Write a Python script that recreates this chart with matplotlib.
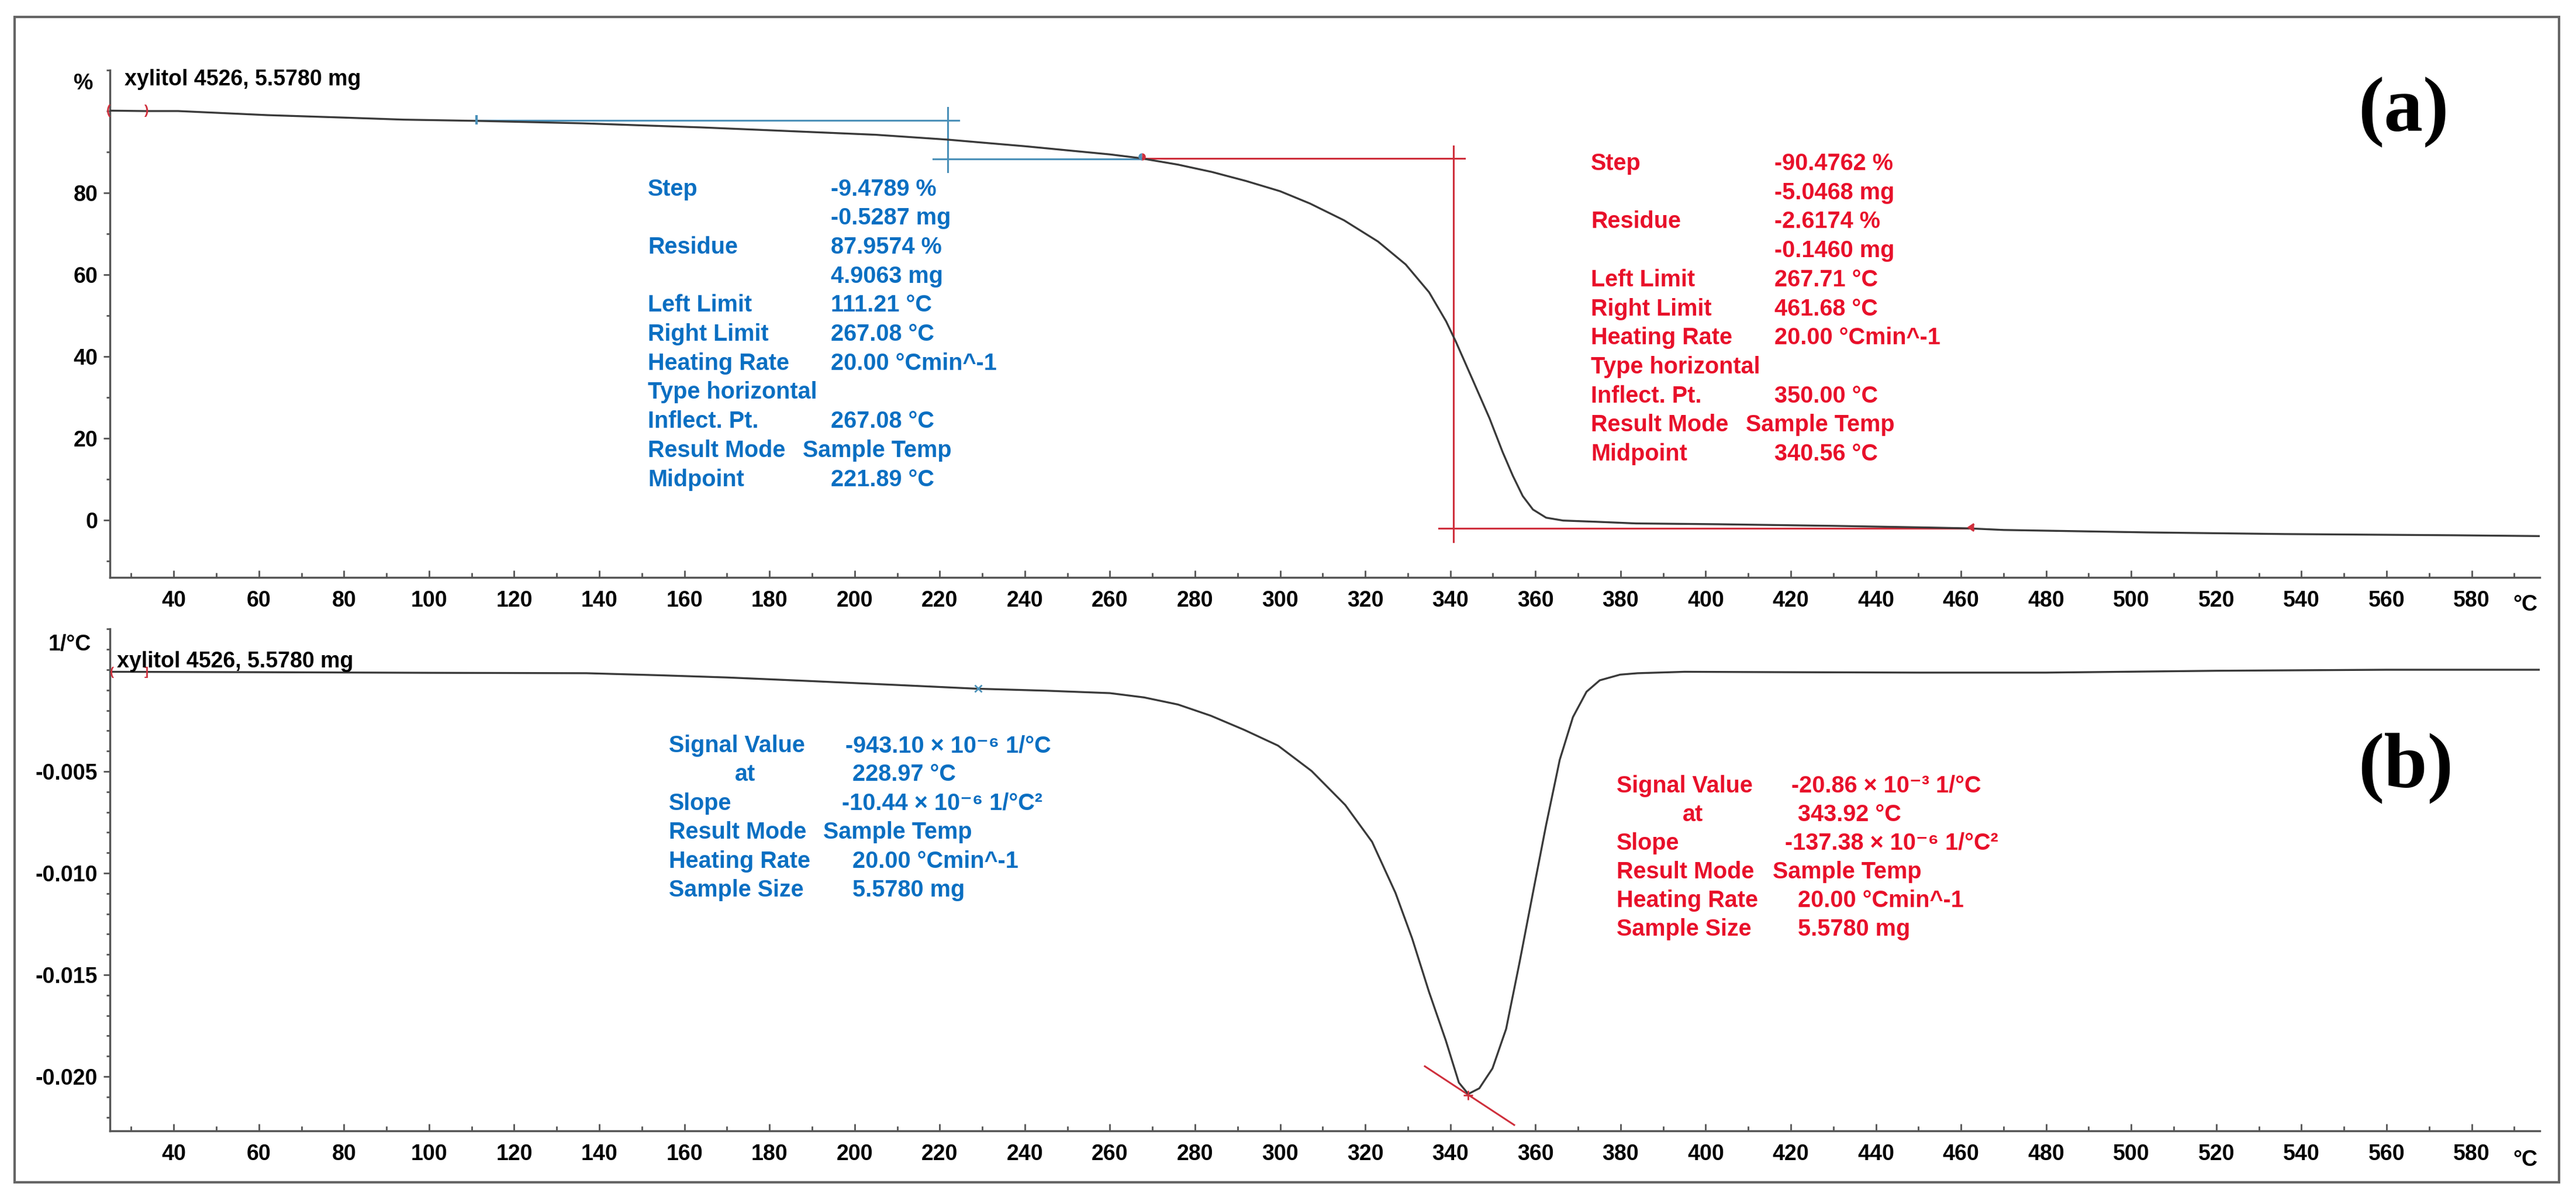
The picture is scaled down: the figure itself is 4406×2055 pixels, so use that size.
import numpy as np
import matplotlib
matplotlib.use("Agg")
import matplotlib.pyplot as plt
from matplotlib.patches import Rectangle

# canvas size in pixels (dpi 100)
W, H = 4406, 2055

# ---- data ----
# (a) TGA: temperature (degC) vs mass (%)
tga_temp = [25, 33, 41, 62, 80, 94, 111, 136, 164, 180,
            205, 222, 240, 250, 260, 267, 276, 284, 292, 300,
            307, 315, 323, 329.5, 335, 339, 341.3, 345.2, 349.2, 352.3,
            354.7, 357, 359.4, 362.5, 366.5, 374.3, 383.6, 403, 430, 452,
            461.5, 470, 504, 536, 576, 596]
tga_mass = [100.1, 100.0, 100.0, 99.0, 98.4, 97.9, 97.6, 97.0, 96.0, 95.3,
            94.2, 93.0, 91.4, 90.4, 89.4, 88.5, 86.9, 85.1, 82.9, 80.4,
            77.4, 73.3, 68.1, 62.5, 55.7, 48.6, 43.6, 34.4, 24.9, 16.6,
            10.8, 5.9, 2.6, 0.6, -0.1, -0.4, -0.8, -1.0, -1.4, -1.8,
            -2.0, -2.4, -3.0, -3.4, -3.7, -3.9]

# (b) DTG: temperature (degC) vs derivative (1/degC)
dtg_temp = [25, 60, 100, 137, 154, 170, 189, 210, 228.5, 245,
            260, 268, 276, 283.7, 291.6, 299.5, 307.4, 315.3, 321.6, 327.1,
            331, 335, 338.9, 342, 344.2, 346.8, 349.9, 353.1, 356.2, 359.4,
            362.5, 365.7, 368.8, 372, 375.1, 379.9, 384, 395, 420, 450,
            480, 520, 560, 596]
dtg_value = [-0.00010, -0.00012, -0.00015, -0.00017, -0.00027, -0.00038, -0.00055,
             -0.00075, -0.00093, -0.00103,
             -0.00115, -0.00136, -0.00171, -0.00226, -0.00296, -0.00373, -0.00498,
             -0.00665, -0.00846, -0.01097,
             -0.01320, -0.01585, -0.01821, -0.02030, -0.02086, -0.02058, -0.01960,
             -0.01766, -0.01445, -0.01097,
             -0.00763, -0.00443, -0.00233, -0.00108, -0.00052, -0.00024, -0.00017,
             -0.00010, -0.00012, -0.00014,
             -0.00014, -0.00005, 0.0, 0.0]

# evaluation lines, step 1 (blue) and step 2 (red)
blue_upper = {"temp": [111, 224.5], "mass": 97.7}
blue_lower = {"temp": [218.4, 267], "mass": 88.3}
blue_mid = {"temp": 221.89, "mass": [85.1, 100.8]}
red_upper = {"temp": [267, 343.4], "mass": 88.4}
red_lower = {"temp": [337.3, 461.7], "mass": -2.0}
red_mid = {"temp": 340.7, "mass": [-5.3, 91.4]}

# peak tangent on DTG
peak_temp = 343.92
peak_value = -0.02086
peak_slope = -137.38e-6
tangent_temp = [334, 355]
blue_point = (228.97, -0.00093)

# axis ticks
x_major = list(range(40, 581, 20))
x_minor = list(range(30, 591, 20))
tga_yticks = [0, 20, 40, 60, 80]
tga_yminor = [-10, 10, 30, 50, 70, 90, 100, 110]
dtg_yticks = [-0.020, -0.015, -0.010, -0.005]
dtg_ylabels = ["-0.020", "-0.015", "-0.010", "-0.005"]
dtg_yminor = [round(-0.022 + 0.001 * i, 3) for i in range(25)]

sample_label = "xylitol 4526, 5.5780 mg"

# result tables
a_blue_labels = ["Step", "", "Residue", "", "Left Limit", "Right Limit", "Heating Rate",
                 "Type horizontal", "Inflect. Pt.", "Result Mode", "Midpoint"]
a_blue_values = ["-9.4789 %", "-0.5287 mg", "87.9574 %", "4.9063 mg", "111.21 °C",
                 "267.08 °C", "20.00 °Cmin^-1", "", "267.08 °C", "Sample Temp",
                 "221.89 °C"]
a_red_labels = a_blue_labels
a_red_values = ["-90.4762 %", "-5.0468 mg", "-2.6174 %", "-0.1460 mg", "267.71 °C",
                "461.68 °C", "20.00 °Cmin^-1", "", "350.00 °C", "Sample Temp",
                "340.56 °C"]
b_blue_labels = ["Signal Value", "at", "Slope", "Result Mode", "Heating Rate", "Sample Size"]
b_blue_values = ["-943.10 × 10⁻⁶ 1/°C", "228.97 °C", "-10.44 × 10⁻⁶ 1/°C²",
                 "Sample Temp", "20.00 °Cmin^-1", "5.5780 mg"]
b_red_labels = b_blue_labels
b_red_values = ["-20.86 × 10⁻³ 1/°C", "343.92 °C", "-137.38 × 10⁻⁶ 1/°C²",
                "Sample Temp", "20.00 °Cmin^-1", "5.5780 mg"]

# ---- style ----
BLUE_TXT = "#0a6fc2"
RED_TXT = "#e8102a"
BLUE_LN = "#4a90b8"
RED_LN = "#cf2f3c"
CURVE = "#3a3a3a"
AXC = "#555555"
FONT = ["Liberation Sans", "DejaVu Sans"]

plt.rcParams["font.family"] = FONT
plt.rcParams["font.weight"] = "bold"


def fxy(x, y):
    # pixel position -> figure fraction
    return x / W, 1 - y / H


def style_axes(ax):
    for side in ["top", "right"]:
        ax.spines[side].set_visible(False)
    for side in ["left", "bottom"]:
        ax.spines[side].set_color(AXC)
        ax.spines[side].set_linewidth(2.5)
    ax.set_xlim(25, 596)
    ax.set_xticks(x_major)
    ax.set_xticks(x_minor, minor=True)
    ax.set_xticklabels([str(t) for t in x_major])
    ax.tick_params(axis="x", which="major", direction="in", length=9, width=2,
                   color=AXC, pad=16, labelsize=27)
    ax.tick_params(axis="x", which="minor", direction="in", length=6, width=2, color=AXC)
    ax.tick_params(axis="y", which="major", direction="out", length=8, width=2,
                   color=AXC, pad=7, labelsize=27)
    ax.tick_params(axis="y", which="minor", direction="out", length=4, width=2, color=AXC)


def draw_block(labels, values, x_lab, x_vals, y0, dy, color, size=28.5):
    for i, (lab, val) in enumerate(zip(labels, values)):
        y = y0 + i * dy
        xl = x_lab + 113 if lab == "at" else x_lab
        if lab:
            fig.text(*fxy(xl, y), lab, color=color, fontsize=size, weight="bold",
                     va="center", ha="left", family=FONT)
        if val:
            fig.text(*fxy(x_vals[i], y), val, color=color, fontsize=size, weight="bold",
                     va="center", ha="left", family=FONT)


fig = plt.figure(figsize=(W / 100, H / 100), dpi=100)
fig.patch.set_facecolor("white")

left, width = 188 / W, (4344 - 188) / W
ax1 = fig.add_axes([left, 1 - 988 / H, width, (988 - 120) / H])
ax2 = fig.add_axes([left, 1 - 1935 / H, width, (1935 - 1076) / H])

# ---- (a) TGA ----
style_axes(ax1)
ax1.set_ylim(-14, 110)
ax1.set_yticks(tga_yticks)
ax1.set_yticks(tga_yminor, minor=True)
ax1.set_yticklabels([str(t) for t in tga_yticks])

ax1.plot(blue_upper["temp"], [blue_upper["mass"]] * 2, color=BLUE_LN, lw=2.2)
ax1.plot(blue_lower["temp"], [blue_lower["mass"]] * 2, color=BLUE_LN, lw=2.2)
ax1.plot([blue_mid["temp"]] * 2, blue_mid["mass"], color=BLUE_LN, lw=2.2)
ax1.plot(red_upper["temp"], [red_upper["mass"]] * 2, color=RED_LN, lw=2.2)
ax1.plot(red_lower["temp"], [red_lower["mass"]] * 2, color=RED_LN, lw=2.2)
ax1.plot([red_mid["temp"]] * 2, red_mid["mass"], color=RED_LN, lw=2.2)

ax1.plot(tga_temp, tga_mass, color=CURVE, lw=2.4, zorder=4, solid_joinstyle="round")

# small evaluation markers
ax1.text(24.6, 100.1, "(", color=RED_LN, fontsize=16, ha="center", va="center", zorder=5)
ax1.text(33.5, 100.0, ")", color=RED_LN, fontsize=16, ha="center", va="center", zorder=5)
ax1.plot([111.2], [97.9], marker="|", color=BLUE_LN, ms=12, mew=3, zorder=5)
ax1.plot([267.5], [88.9], marker="o", ms=9, fillstyle="left", color=BLUE_LN,
         markerfacecoloralt=RED_LN, mec="none", zorder=5)
ax1.plot([461.7], [-1.7], marker=4, color=RED_LN, ms=9, mew=2.5, zorder=5)

# ---- (b) DTG ----
style_axes(ax2)
ax2.set_ylim(-0.022672, 0.002011)
ax2.set_yticks(dtg_yticks)
ax2.set_yticks(dtg_yminor, minor=True)
ax2.set_yticklabels(dtg_ylabels)

ax2.plot(dtg_temp, dtg_value, color=CURVE, lw=2.4, zorder=4, solid_joinstyle="round")
tan_v = [peak_value + peak_slope * (t - peak_temp) for t in tangent_temp]
ax2.plot(tangent_temp, tan_v, color=RED_LN, lw=2.2, zorder=3)
ax2.plot([peak_temp + 0.3], [peak_value - 0.00005], marker="+", color=RED_LN, ms=12,
         mew=2, zorder=5)
ax2.plot([blue_point[0]], [blue_point[1]], marker="x", color=BLUE_LN, ms=9, mew=2, zorder=5)
ax2.text(25.5, -0.00012, "(", color=RED_LN, fontsize=15, ha="center", va="center", zorder=5)
ax2.text(33.5, -0.00012, "]", color=RED_LN, fontsize=15, ha="center", va="center", zorder=5)

# ---- labels and tables ----
fig.text(*fxy(142, 143), "%", fontsize=27, weight="bold", ha="center", va="center")
fig.text(*fxy(119, 1103), "1/°C", fontsize=27, weight="bold", ha="center", va="center")
fig.text(*fxy(4319, 1035), "°C", fontsize=27, weight="bold", ha="center", va="center")
fig.text(*fxy(4319, 1985), "°C", fontsize=27, weight="bold", ha="center", va="center")
fig.text(*fxy(213, 136), sample_label, fontsize=27, weight="bold", ha="left", va="center")
fig.text(*fxy(200, 1132), sample_label, fontsize=27, weight="bold", ha="left", va="center")

fig.text(*fxy(4111, 192), "(a)", fontsize=96, weight="bold", ha="center", va="center",
         family=["Liberation Serif", "DejaVu Serif"])
fig.text(*fxy(4115, 1314), "(b)", fontsize=96, weight="bold", ha="center", va="center",
         family=["Liberation Serif", "DejaVu Serif"])

xa = [1421] * 11
xa[9] = 1373
draw_block(a_blue_labels, a_blue_values, 1108, xa, 323.5, 49.7, BLUE_TXT)
xr = [3035] * 11
xr[9] = 2986
draw_block(a_red_labels, a_red_values, 2721, xr, 280, 49.7, RED_TXT)
draw_block(b_blue_labels, b_blue_values, 1143.5, [1446, 1458, 1440, 1408, 1458, 1458],
           1276, 49.4, BLUE_TXT)
draw_block(b_red_labels, b_red_values, 2765, [3064, 3075, 3053, 3032, 3075, 3075],
           1345, 49.0, RED_TXT)

# outer frame
x0, y0 = fxy(25, 2023)
x1, y1 = fxy(4377, 29)
fig.patches.append(Rectangle((x0, y0), x1 - x0, y1 - y0, transform=fig.transFigure,
                             fill=False, edgecolor="#666666", lw=3))

fig.savefig("out.png", dpi=100)
plt.close()
